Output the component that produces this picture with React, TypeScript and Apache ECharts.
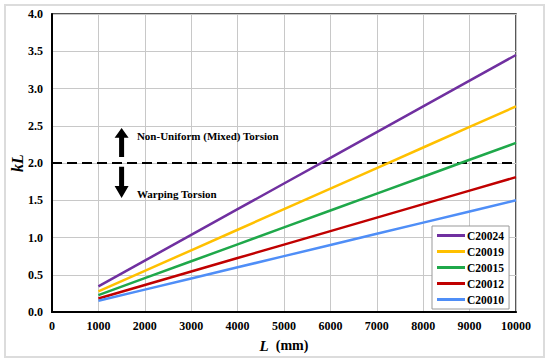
import React, { useEffect, useRef } from "react";
import * as echarts from "echarts";

const lengths = [1000, 2000, 3000, 4000, 5000, 6000, 7000, 8000, 9000, 10000];
const seriesNames = ["C20024", "C20019", "C20015", "C20012", "C20010"];
const c20024 = [0.345, 0.69, 1.035, 1.38, 1.725, 2.07, 2.415, 2.76, 3.105, 3.45];
const c20019 = [0.276, 0.552, 0.828, 1.104, 1.38, 1.656, 1.932, 2.208, 2.484, 2.76];
const c20015 = [0.227, 0.454, 0.681, 0.908, 1.135, 1.362, 1.589, 1.816, 2.043, 2.27];
const c20012 = [0.181, 0.362, 0.543, 0.724, 0.905, 1.086, 1.267, 1.448, 1.629, 1.81];
const c20010 = [0.15, 0.3, 0.45, 0.6, 0.75, 0.9, 1.05, 1.2, 1.35, 1.5];
const seriesValues = [c20024, c20019, c20015, c20012, c20010];
const colors = ["#7030A0", "#FFC000", "#1FA84A", "#C00000", "#4F8EF7"];
const limitValue = 2.0;

const FONT = "'Liberation Serif', 'Times New Roman', serif";

export default function App() {
  const ref = useRef<HTMLDivElement>(null);
  useEffect(() => {
    if (!ref.current) return;
    const chart = echarts.init(ref.current, null, { renderer: "svg" });
    const series: any[] = seriesNames.map((name, i) => ({
      name,
      type: "line",
      data: lengths.map((x, j) => [x, seriesValues[i][j]]),
      symbol: "none",
      lineStyle: { color: colors[i], width: 2.5 },
      itemStyle: { color: colors[i] },
      z: 5,
    }));
    series[4].markLine = {
      silent: true,
      symbol: "none",
      label: { show: false },
      lineStyle: { color: "#000", width: 2, type: [10, 5] },
      data: [{ yAxis: limitValue }],
    };
    chart.setOption({
      animation: false,
      backgroundColor: "#fff",
      textStyle: { fontFamily: FONT },
      grid: {
        left: 52,
        right: 34,
        top: 14,
        bottom: 50,
        outerBoundsMode: "none",
        containLabel: false,
        show: true,
        borderColor: "#222",
        borderWidth: 1.5,
        backgroundColor: "transparent",
      },
      xAxis: {
        type: "value",
        min: 0,
        max: 10000,
        interval: 1000,
        name: "{i|L}{n|  (mm)}",
        nameLocation: "middle",
        nameGap: 26,
        nameMoveOverlap: false,
        nameTextStyle: {
          rich: {
            i: { fontFamily: FONT, fontStyle: "italic", fontWeight: "bold", fontSize: 15, color: "#000" },
            n: { fontFamily: FONT, fontWeight: "bold", fontSize: 14, color: "#000" },
          },
        },
        axisLine: { show: true, lineStyle: { color: "#000", width: 2 } },
        axisTick: { show: false },
        axisLabel: {
          fontFamily: FONT,
          fontWeight: "bold",
          fontSize: 12,
          color: "#000",
          margin: 8,
          formatter: (v: number) => String(v),
        },
        splitLine: { show: true, lineStyle: { color: "#c8c8c8", width: 1 } },
      },
      yAxis: {
        type: "value",
        min: 0,
        max: 4,
        interval: 0.5,
        name: "kL",
        nameLocation: "middle",
        nameGap: 27,
        nameMoveOverlap: false,
        nameRotate: 90,
        nameTextStyle: { fontFamily: FONT, fontStyle: "italic", fontWeight: "bold", fontSize: 16, color: "#000" },
        axisLine: { show: true, lineStyle: { color: "#000", width: 2 } },
        axisTick: { show: false },
        axisLabel: {
          fontFamily: FONT,
          fontWeight: "bold",
          fontSize: 12,
          color: "#000",
          margin: 9,
          formatter: (v: number) => v.toFixed(1),
        },
        splitLine: { show: true, lineStyle: { color: "#c8c8c8", width: 1 } },
      },
      legend: {
        data: seriesNames,
        orient: "vertical",
        left: 432,
        top: 226,
        icon: "rect",
        itemWidth: 28,
        itemHeight: 3,
        itemGap: 3,
        padding: [3, 5, 3, 5],
        backgroundColor: "#fff",
        borderColor: "#999",
        borderWidth: 1,
        borderRadius: 0,
        textStyle: {
          fontFamily: FONT,
          fontWeight: "bold",
          fontSize: 11.5,
          color: "#000",
          lineHeight: 13,
          padding: [0, 0, 0, -3],
        },
      },
      series,
    });

    const px = (x: number, y: number) => chart.convertToPixel({ gridIndex: 0 }, [x, y]) as number[];
    const ax = px(1500, 0)[0];
    const upTip = px(1500, 2.47)[1];
    const upBase = px(1500, 2.34)[1];
    const upShaftEnd = px(1500, 2.08)[1];
    const dnShaftStart = px(1500, 1.95)[1];
    const dnBase = px(1500, 1.69)[1];
    const dnTip = px(1500, 1.53)[1];
    const hw = 7;
    const sw = 2.5;
    const t1 = px(1830, 2.36);
    const t2 = px(1830, 1.58);
    chart.setOption({
      graphic: [
        {
          type: "rect",
          shape: { x: 5, y: 5, width: 539, height: 352 },
          style: { fill: "none", stroke: "#dcdcdc", lineWidth: 2 },
          silent: true,
        },
        {
          type: "polygon",
          shape: {
            points: [
              [ax, upTip],
              [ax + hw, upBase],
              [ax + sw, upBase],
              [ax + sw, upShaftEnd],
              [ax - sw, upShaftEnd],
              [ax - sw, upBase],
              [ax - hw, upBase],
            ],
          },
          style: { fill: "#000" },
          z: 10,
        },
        {
          type: "polygon",
          shape: {
            points: [
              [ax, dnTip],
              [ax + hw, dnBase],
              [ax + sw, dnBase],
              [ax + sw, dnShaftStart],
              [ax - sw, dnShaftStart],
              [ax - sw, dnBase],
              [ax - hw, dnBase],
            ],
          },
          style: { fill: "#000" },
          z: 10,
        },
        {
          type: "text",
          x: t1[0],
          y: t1[1],
          style: {
            text: "Non-Uniform (Mixed) Torsion",
            fontFamily: FONT,
            fontWeight: "bold",
            fontSize: 11,
            fill: "#000",
            verticalAlign: "middle",
            align: "left",
          },
          z: 10,
        },
        {
          type: "text",
          x: t2[0],
          y: t2[1],
          style: {
            text: "Warping Torsion",
            fontFamily: FONT,
            fontWeight: "bold",
            fontSize: 11,
            fill: "#000",
            verticalAlign: "middle",
            align: "left",
          },
          z: 10,
        },
      ],
    });
    return () => chart.dispose();
  }, []);
  return (
    <div
      ref={ref}
      style={{ position: "fixed", left: 0, top: 0, width: 550, height: 362, background: "#fff" }}
    />
  );
}
